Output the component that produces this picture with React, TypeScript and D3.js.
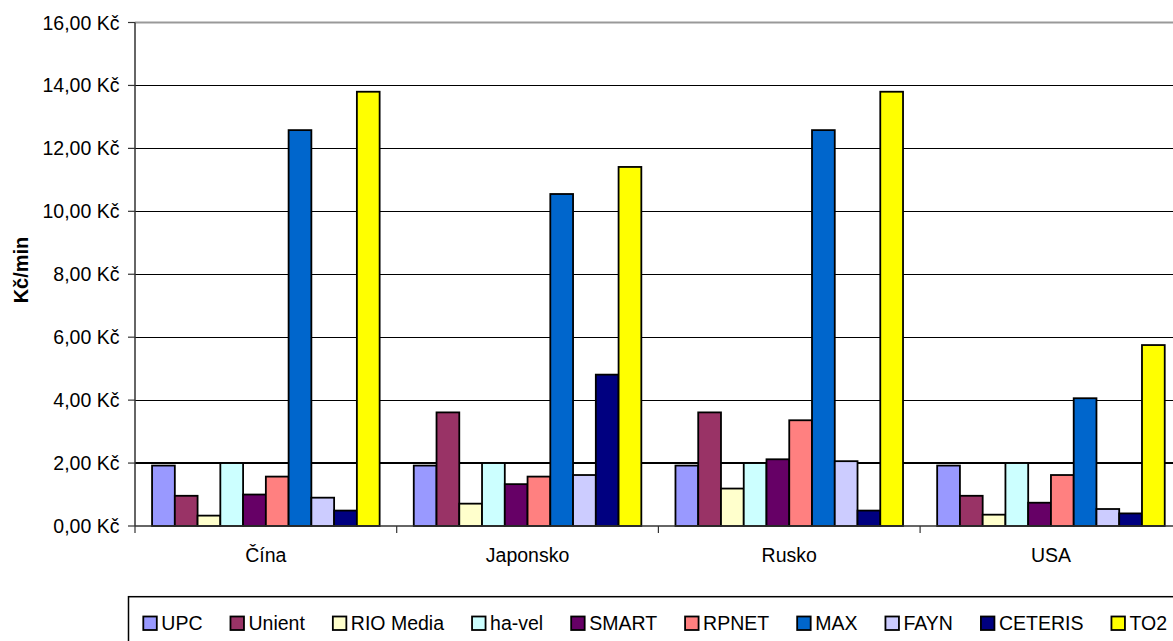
import React, { useEffect, useRef } from "react";
import * as d3 from "d3";

const categories = ["Čína", "Japonsko", "Rusko", "USA"];
const seriesNames = ["UPC", "Unient", "RIO Media", "ha-vel", "SMART", "RPNET", "MAX", "FAYN", "CETERIS", "TO2"];
const seriesColors = ["#9999FF", "#993366", "#FFFFCC", "#CCFFFF", "#660066", "#FF8080", "#0066CC", "#CCCCFF", "#000080", "#FFFF00"];
const upc = [1.92, 1.92, 1.92, 1.92];
const unient = [0.96, 3.61, 3.61, 0.96];
const rioMedia = [0.33, 0.71, 1.19, 0.36];
const haVel = [2.0, 2.0, 2.0, 2.0];
const smart = [1.0, 1.33, 2.12, 0.74];
const rpnet = [1.57, 1.57, 3.36, 1.62];
const maxS = [12.58, 10.55, 12.58, 4.06];
const fayn = [0.9, 1.62, 2.06, 0.54];
const ceteris = [0.49, 4.81, 0.49, 0.4];
const to2 = [13.8, 11.41, 13.8, 5.75];
const yTicks = [0, 2, 4, 6, 8, 10, 12, 14, 16];
const yTitle = "Kč/min";

const seriesValues = [upc, unient, rioMedia, haVel, smart, rpnet, maxS, fayn, ceteris, to2];

const W = 1173;
const H = 641;
const FONT = "'Liberation Sans', Arial, sans-serif";
const FS = 19.5;

export default function App() {
  const ref = useRef<SVGSVGElement>(null);

  useEffect(() => {
    const svg = d3.select(ref.current);
    svg.selectAll("*").remove();

    const left = 135;
    const bandW = 261.7;
    const x = d3.scaleBand<string>().domain(categories).range([left, left + bandW * categories.length]).padding(0);
    const y = d3.scaleLinear().domain([0, 16]).range([526, 22.5]);
    const bw = x.bandwidth() / 11.5;
    const off = bw * 0.75;
    const inner = d3.scaleBand<number>().domain(d3.range(seriesNames.length)).range([off, off + bw * seriesNames.length]).padding(0);

    const loc = d3.formatLocale({ decimal: ",", thousands: " ", grouping: [3], currency: ["", " Kč"] });
    const fmt = loc.format("$.2f");

    const plotRight = left + bandW * categories.length;

    // gridlines
    svg.append("g").selectAll("line").data(yTicks.filter((t) => t > 0 && t < 16)).join("line")
      .attr("x1", left).attr("x2", plotRight)
      .attr("y1", (d) => y(d)).attr("y2", (d) => y(d))
      .attr("stroke", "#000").attr("stroke-width", 1.2).attr("shape-rendering", "crispEdges");

    // top border
    svg.append("line").attr("x1", left).attr("x2", plotRight).attr("y1", y(16)).attr("y2", y(16))
      .attr("stroke", "#999").attr("stroke-width", 2);

    // bars
    const gBars = svg.append("g");
    seriesNames.forEach((name, si) => {
      gBars.append("g").selectAll("rect").data(seriesValues[si]).join("rect")
        .attr("x", (_d, i) => (x(categories[i]) as number) + (inner(si) as number))
        .attr("y", (d) => y(d))
        .attr("width", inner.bandwidth())
        .attr("height", (d) => y(0) - y(d))
        .attr("fill", seriesColors[si])
        .attr("stroke", "#000")
        .attr("stroke-width", 1.8);
    });

    // y axis
    const yAxis = svg.append("g");
    yAxis.append("line").attr("x1", left).attr("x2", left).attr("y1", y(16)).attr("y2", y(0))
      .attr("stroke", "#333").attr("stroke-width", 1.5);
    yAxis.selectAll("line.tick").data(yTicks).join("line").attr("class", "tick")
      .attr("x1", left - 7).attr("x2", left).attr("y1", (d) => y(d)).attr("y2", (d) => y(d))
      .attr("stroke", "#333").attr("stroke-width", 1.2);
    yAxis.selectAll("text").data(yTicks).join("text")
      .attr("x", 119.5).attr("y", (d) => y(d)).attr("dy", "0.36em")
      .attr("text-anchor", "end").attr("font-family", FONT).attr("font-size", FS).attr("fill", "#000")
      .text((d) => fmt(d));

    // x axis
    const xAxis = svg.append("g");
    xAxis.append("line").attr("x1", left).attr("x2", plotRight).attr("y1", y(0)).attr("y2", y(0))
      .attr("stroke", "#333").attr("stroke-width", 1.5);
    const bounds = [...categories.map((c) => x(c) as number), plotRight];
    xAxis.selectAll("line.tick").data(bounds).join("line").attr("class", "tick")
      .attr("x1", (d) => d).attr("x2", (d) => d).attr("y1", y(0)).attr("y2", y(0) + 7)
      .attr("stroke", "#333").attr("stroke-width", 1.2);
    xAxis.selectAll("text").data(categories).join("text")
      .attr("x", (d) => (x(d) as number) + x.bandwidth() / 2).attr("y", 561.7)
      .attr("text-anchor", "middle").attr("font-family", FONT).attr("font-size", FS).attr("fill", "#000")
      .text((d) => d);

    // y title
    svg.append("text").attr("transform", `translate(28,270) rotate(-90)`)
      .attr("text-anchor", "middle").attr("font-family", FONT).attr("font-size", 20).attr("font-weight", "bold")
      .text(yTitle);

    // legend
    const lg = svg.append("g");
    lg.append("rect").attr("x", 128.5).attr("y", 596.7).attr("width", 1100).attr("height", 100)
      .attr("fill", "#fff").attr("stroke", "#000").attr("stroke-width", 1.5);
    let cx = 143.3;
    seriesNames.forEach((name, si) => {
      lg.append("rect").attr("x", cx).attr("y", 616.5).attr("width", 13.5).attr("height", 13.5)
        .attr("fill", seriesColors[si]).attr("stroke", "#000").attr("stroke-width", 1.8);
      const t = lg.append("text").attr("x", cx + 18).attr("y", 630)
        .attr("font-family", FONT).attr("font-size", FS).attr("fill", "#000").text(name);
      const tw = (t.node() as SVGTextElement).getComputedTextLength();
      cx = cx + 18 + tw + 28;
    });
  }, []);

  return (
    <svg
      ref={ref}
      width={W}
      height={H}
      style={{ position: "fixed", left: 0, top: 0, background: "#fff" }}
    />
  );
}
